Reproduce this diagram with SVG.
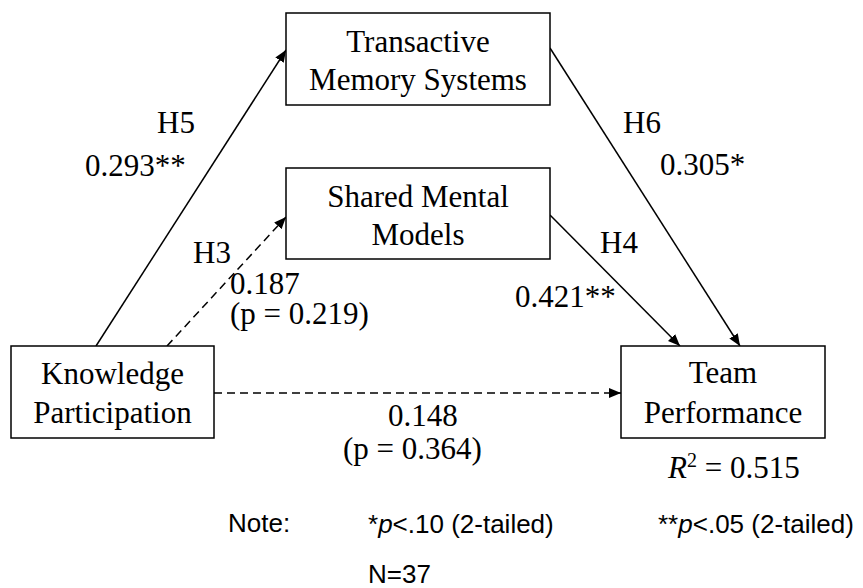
<svg xmlns="http://www.w3.org/2000/svg" width="863" height="588" viewBox="0 0 863 588">
  <style>
    .box { fill: #ffffff; stroke: #000000; stroke-width: 1.5; }
    .node { font-family: "Liberation Serif", "Times New Roman", serif; font-size: 31px; fill: #000000; text-anchor: middle; }
    .lbl { font-family: "Liberation Serif", "Times New Roman", serif; font-size: 31px; fill: #000000; }
    .note { font-family: "Liberation Sans", Arial, sans-serif; font-size: 26px; fill: #000000; }
    .edge { fill: none; stroke: #000000; stroke-width: 1.5; }
    .dash { stroke-dasharray: 8 5; }
  </style>
  <defs>
    <marker id="arrow" viewBox="0 0 12 10" refX="12" refY="5" markerWidth="12" markerHeight="10" markerUnits="userSpaceOnUse" orient="auto">
      <path d="M0,0 L12,5 L0,10 Z" fill="#000000"/>
    </marker>
  </defs>

  <rect width="863" height="588" fill="#ffffff"/>

  <!-- connectors -->
  <g id="connectors">
    <line class="edge" x1="96" y1="346" x2="286" y2="50" marker-end="url(#arrow)"/>
    <line class="edge dash" x1="167" y1="346" x2="286" y2="217" marker-end="url(#arrow)"/>
    <line class="edge" x1="550" y1="48" x2="740" y2="346" marker-end="url(#arrow)"/>
    <line class="edge" x1="550" y1="215" x2="680" y2="346" marker-end="url(#arrow)"/>
    <line class="edge dash" x1="214" y1="393" x2="621" y2="393" marker-end="url(#arrow)"/>
  </g>

  <!-- nodes -->
  <g id="tms">
    <rect class="box" x="286" y="13" width="264" height="92"/>
    <text class="node" x="418" y="52">Transactive</text>
    <text class="node" x="418" y="90">Memory Systems</text>
  </g>
  <g id="smm">
    <rect class="box" x="286" y="168" width="264" height="91"/>
    <text class="node" x="418" y="207">Shared Mental</text>
    <text class="node" x="418" y="245">Models</text>
  </g>
  <g id="kp">
    <rect class="box" x="11" y="346" width="203" height="92"/>
    <text class="node" x="112.5" y="384">Knowledge</text>
    <text class="node" x="112.5" y="423">Participation</text>
  </g>
  <g id="tp">
    <rect class="box" x="621" y="346" width="204" height="92"/>
    <text class="node" x="723" y="383">Team</text>
    <text class="node" x="723" y="423">Performance</text>
  </g>

  <!-- path labels -->
  <g id="labels">
    <text class="lbl" x="157" y="133">H5</text>
    <text class="lbl" x="85" y="176">0.293**</text>
    <text class="lbl" x="193" y="263">H3</text>
    <text class="lbl" x="230" y="294">0.187</text>
    <text class="lbl" x="230" y="324">(p = 0.219)</text>
    <text class="lbl" x="623" y="133">H6</text>
    <text class="lbl" x="660" y="175">0.305*</text>
    <text class="lbl" x="600" y="253">H4</text>
    <text class="lbl" x="515" y="307">0.421**</text>
    <text class="lbl" x="388" y="426">0.148</text>
    <text class="lbl" x="343" y="459">(p = 0.364)</text>
    <text class="lbl" x="668" y="478"><tspan font-style="italic">R</tspan><tspan font-size="20" dy="-11">2</tspan><tspan dy="11"> = 0.515</tspan></text>
  </g>

  <!-- footnote -->
  <g id="note">
    <text class="note" x="228" y="532">Note:</text>
    <text class="note" x="368" y="533">*<tspan font-style="italic">p</tspan>&lt;.10 (2-tailed)</text>
    <text class="note" x="658" y="533">**<tspan font-style="italic">p</tspan>&lt;.05 (2-tailed)</text>
    <text class="note" x="368" y="583">N=37</text>
  </g>
</svg>
